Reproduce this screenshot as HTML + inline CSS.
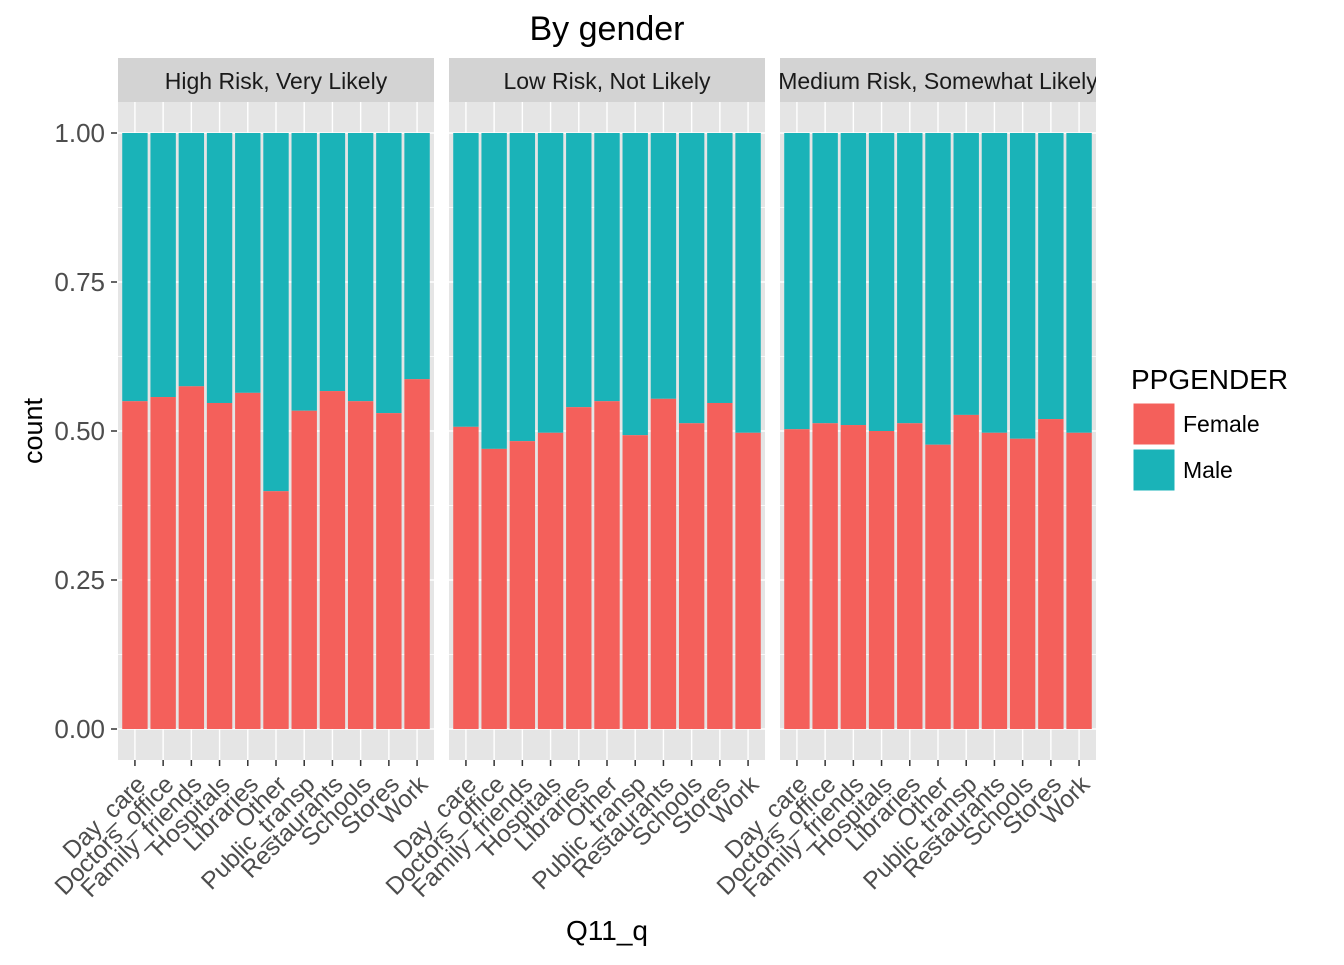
<!DOCTYPE html>
<html><head><meta charset="utf-8"><style>
body{margin:0;background:#fff;width:1344px;height:960px;overflow:hidden}
text{font-family:"Liberation Sans",Arial,sans-serif}
</style></head><body>
<svg id="chart" width="1344" height="960" xmlns="http://www.w3.org/2000/svg">
<text x="607" y="40" font-size="34" text-anchor="middle" fill="#000">By gender</text>
<g id="panels"></g>
<text x="42" y="431" font-size="27" text-anchor="middle" transform="rotate(-90 42 431)">count</text>
<text x="607" y="940" font-size="28" text-anchor="middle">Q11_q</text>
<g>
<text x="1131" y="389" font-size="28">PPGENDER</text>
<rect x="1133" y="403" width="42" height="42" fill="#F4605B" stroke="#fff" stroke-width="1"/>
<text x="1183" y="432" font-size="23">Female</text>
<rect x="1133" y="449" width="42" height="42" fill="#1AB3B8" stroke="#fff" stroke-width="1"/>
<text x="1183" y="478" font-size="23">Male</text>
</g>
</svg>
<script>
const categories=["Day_care","Doctors_office","Family_friends","Hospitals","Libraries","Other","Public_transp","Restaurants","Schools","Stores","Work"];
const panelTitles=["High Risk, Very Likely","Low Risk, Not Likely","Medium Risk, Somewhat Likely"];
const femaleHigh=[0.550,0.557,0.575,0.547,0.564,0.399,0.534,0.567,0.550,0.530,0.587];
const femaleLow=[0.507,0.470,0.483,0.497,0.540,0.550,0.493,0.554,0.513,0.547,0.497];
const femaleMed=[0.503,0.513,0.510,0.500,0.513,0.477,0.527,0.497,0.487,0.520,0.497];
const yTicks=[0,0.25,0.5,0.75,1];
const yTickLabels=["0.00","0.25","0.50","0.75","1.00"];
const series=[femaleHigh,femaleLow,femaleMed];
const NS="http://www.w3.org/2000/svg";
const g=document.getElementById('panels');
function el(t,a,p){const e=document.createElementNS(NS,t);for(const k in a)e.setAttribute(k,a[k]);(p||g).appendChild(e);return e;}
const plotTop=102,plotBot=760;
const y=v=>729-v*596;
const panelX=[118,449,780],pw=316;
const n=categories.length;
const unit=pw/(n-1+1.2);
const x=(p,i)=>panelX[p]+unit*(0.6+i);
yTicks.forEach((t,k)=>{
  const tl=el('text',{x:105,y:y(t)+9,'font-size':26,'text-anchor':'end',fill:'#4d4d4d'});
  tl.textContent=yTickLabels[k];
  
  
  el('line',{x1:111,x2:117,y1:y(t),y2:y(t),stroke:'#333','stroke-width':1.5});
});
series.forEach((vals,p)=>{
  const px=panelX[p];
  const bg=el('rect',{x:px,y:plotTop,width:pw,height:plotBot-plotTop,fill:'#e5e5e5'});
  
  
  for(let k=0;k<4;k++){const v=0.125+k*0.25;el('line',{x1:px,x2:px+pw,y1:y(v),y2:y(v),stroke:'#fff','stroke-width':0.7});}
  yTicks.forEach(t=>el('line',{x1:px,x2:px+pw,y1:y(t),y2:y(t),stroke:'#fff','stroke-width':1.4}));
  categories.forEach((c,i)=>el('line',{x1:x(p,i),x2:x(p,i),y1:plotTop,y2:plotBot,stroke:'#fff','stroke-width':1.4}));
  const st=el('rect',{x:px,y:58,width:pw,height:44,fill:'#d3d3d3'});
  
  
  const cp=el('clipPath',{id:'cp'+p});el('rect',{x:px,y:58,width:pw,height:44},cp);
  const stt=el('text',{x:px+pw/2,y:89,'font-size':23,'text-anchor':'middle',fill:'#1a1a1a','clip-path':'url(#cp'+p+')'});
  stt.textContent=panelTitles[p];
  
  
  const bw=unit*0.9;
  vals.forEach((v,i)=>{
    const cx=x(p,i);
    const m=el('rect',{x:cx-bw/2,y:y(1),width:bw,height:y(v)-y(1),fill:'#1AB3B8'});
    
    
    const f=el('rect',{x:cx-bw/2,y:y(v),width:bw,height:y(0)-y(v),fill:'#F4605B'});
    
    
    el('line',{x1:cx,x2:cx,y1:760,y2:766,stroke:'#333','stroke-width':1.5});
    const tx=cx+12,ty=786;
    const lbl=el('text',{x:tx,y:ty,'font-size':24.5,'text-anchor':'end',fill:'#4d4d4d',transform:'rotate(-45 '+tx+' '+ty+')'});
    lbl.textContent=categories[i];
    
    
  });
});
</script>
</body></html>
